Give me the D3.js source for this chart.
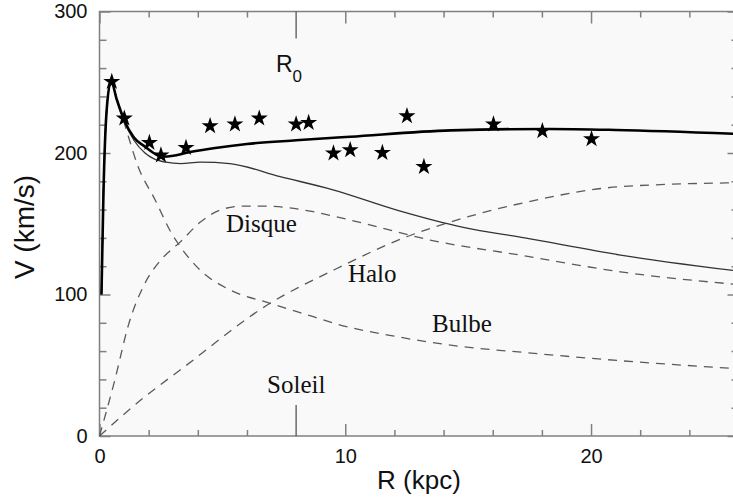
<!DOCTYPE html>
<html>
<head>
<meta charset="utf-8">
<script src="https://d3js.org/d3.v7.min.js"></script>
<style>
  body { margin: 0; background: #fff; }
  svg text { font-family: "Liberation Sans", Arial, sans-serif; fill: #111; }
  .serif { font-family: "Liberation Serif", "Times New Roman", serif !important; }
</style>
</head>
<body>
<div id="chart"></div>
<script>
// values: R in kpc, V in km/s
const totalR  = [0.08, 0.16, 0.29, 0.47, 0.7, 1.01, 1.4, 1.85, 2.2, 2.53, 3.0, 3.5, 4.63, 6.0, 8.0, 10.2, 14.3, 18.3, 21.0, 26];
const totalV  = [100, 171, 230, 251, 238, 223, 211, 204.5, 200, 197.4, 198, 200, 203.3, 206.4, 209, 211.5, 216, 217, 216.3, 213.5];

const thinR   = [0.08, 0.16, 0.29, 0.47, 0.7, 1.01, 1.4, 1.85, 2.2, 2.7, 3.3, 4.1, 5.3, 7.35, 9.5, 12.1, 14.8, 17.3, 21.2, 26];
const thinV   = [100, 171, 230, 251, 238, 222, 209, 200, 196, 193.5, 192.5, 193.5, 192.5, 183.3, 174, 159.7, 147.5, 140, 127.9, 116.5];

const bulgeR  = [0.08, 0.16, 0.29, 0.47, 0.7, 1.01, 1.58, 2.26, 2.94, 3.28, 4.09, 5.31, 6.94, 8.7, 9.6, 12.1, 14.8, 17.3, 21.2, 26];
const bulgeV  = [100, 171, 230, 251, 238, 221, 190, 167, 143, 134, 117.3, 103.2, 93.8, 84.3, 79.4, 70.2, 63.1, 59, 53.2, 47.5];

const diskR   = [0, 0.63, 1.17, 1.85, 2.53, 3.28, 4.09, 5.04, 5.9, 6.67, 8.7, 9.5, 10.74, 13.45, 17.3, 21.2, 26];
const diskV   = [0, 40, 78, 108, 125, 137, 151, 160.5, 162.5, 162.5, 158.5, 155.5, 150.3, 138.5, 127.3, 116, 107];

const haloR   = [0, 1.85, 3.28, 6.94, 9.5, 12.5, 14.4, 17.3, 21.2, 26];
const haloV   = [0, 27.8, 46.6, 93.8, 117, 140.8, 151.9, 165, 176.2, 179];

const starR   = [0.5, 1.01, 2.03, 2.5, 3.52, 4.5, 5.51, 6.5, 8.0, 8.51, 9.52, 10.2, 11.51, 12.51, 13.2, 16.03, 18.02, 20.02];
const starV   = [250.4, 224.5, 207.3, 198.4, 203.7, 219.1, 220.3, 224.5, 220.3, 221.4, 199.8, 202.1, 200.2, 226.1, 190.3, 220.3, 215.5, 209.9];

const xMajor  = [0, 10, 20];
const xMinor  = [2, 4, 6, 12, 14, 16, 18, 22, 24];
const yMajor  = [0, 100, 200, 300];
const yMinor  = [20, 40, 60, 80, 120, 140, 160, 180, 220, 240, 260, 280];
const sunR    = 8;

const W = 733, H = 501;
const pLeft = 99.5, pRight = 738.5, pTop = 11.5, pBottom = 436;

const svg = d3.select("#chart").append("svg")
  .attr("width", W).attr("height", H);

const x = d3.scaleLinear().domain([0, 26]).range([pLeft, pRight]);
const y = d3.scaleLinear().domain([0, 300]).range([pBottom, pTop]);

// plot frame
svg.append("rect")
  .attr("x", pLeft).attr("y", pTop)
  .attr("width", pRight - pLeft).attr("height", pBottom - pTop)
  .style("fill", "#f9f9f9")
  .style("stroke", "#808080")
  .style("stroke-width", 1.5);

const axisColor = "#808080";
function ticks(g) {
  g.select(".domain").remove();
  g.selectAll(".tick line").style("stroke", axisColor).style("stroke-width", 1.5);
  g.selectAll(".tick text").style("font-size", "20px").style("fill", "#111");
}

// bottom axis
svg.append("g").attr("transform", `translate(0,${pBottom})`)
  .call(d3.axisBottom(x).tickValues(xMajor).tickSize(-12).tickPadding(13).tickFormat(d3.format("d")))
  .call(ticks);
svg.append("g").attr("transform", `translate(0,${pBottom})`)
  .call(d3.axisBottom(x).tickValues(xMinor).tickSize(-6).tickFormat(""))
  .call(ticks);
// top axis
svg.append("g").attr("transform", `translate(0,${pTop})`)
  .call(d3.axisTop(x).tickValues(xMajor).tickSize(-12).tickFormat(""))
  .call(ticks);
svg.append("g").attr("transform", `translate(0,${pTop})`)
  .call(d3.axisTop(x).tickValues(xMinor).tickSize(-6).tickFormat(""))
  .call(ticks);
// left axis
svg.append("g").attr("transform", `translate(${pLeft},0)`)
  .call(d3.axisLeft(y).tickValues(yMajor).tickSize(-11).tickPadding(12).tickFormat(d3.format("d")))
  .call(ticks);
svg.append("g").attr("transform", `translate(${pLeft},0)`)
  .call(d3.axisLeft(y).tickValues(yMinor).tickSize(-7).tickFormat(""))
  .call(ticks);
// right axis
svg.append("g").attr("transform", `translate(${pRight},0)`)
  .call(d3.axisRight(y).tickValues(yMajor).tickSize(-11).tickFormat(""))
  .call(ticks);
svg.append("g").attr("transform", `translate(${pRight},0)`)
  .call(d3.axisRight(y).tickValues(yMinor).tickSize(-7).tickFormat(""))
  .call(ticks);

// long ticks marking the Sun (R0)
svg.append("line")
  .attr("x1", x(sunR)).attr("x2", x(sunR))
  .attr("y1", pBottom).attr("y2", pBottom - 31)
  .style("stroke", "#555").style("stroke-width", 1.3);
svg.append("line")
  .attr("x1", x(sunR)).attr("x2", x(sunR))
  .attr("y1", pTop).attr("y2", pTop + 27)
  .style("stroke", "#555").style("stroke-width", 1.3);

// curves
function toPts(rs, vs) { return rs.map((r, i) => [r, vs[i]]); }
const line = d3.line()
  .x(d => x(d[0]))
  .y(d => y(d[1]))
  .curve(d3.curveMonotoneX);

const plot = svg.append("g");

[[haloR, haloV], [diskR, diskV], [bulgeR, bulgeV]].forEach(s => {
  plot.append("path")
    .attr("d", line(toPts(s[0], s[1])))
    .style("fill", "none")
    .style("stroke", "#5a5a5a")
    .style("stroke-width", 1.3)
    .style("stroke-dasharray", "9,7");
});

plot.append("path")
  .attr("d", line(toPts(thinR, thinV)))
  .style("fill", "none")
  .style("stroke", "#333")
  .style("stroke-width", 1.3);

plot.append("path")
  .attr("d", line(toPts(totalR, totalV)))
  .style("fill", "none")
  .style("stroke", "#000")
  .style("stroke-width", 2.6);

// observed points
const star = d3.symbol().type(d3.symbolStar).size(90);
starR.forEach((r, i) => {
  plot.append("path")
    .attr("d", star())
    .attr("transform", `translate(${x(r)},${y(starV[i])})`)
    .style("fill", "#000");
});

// component labels
const labels = [["Disque", 5.15, 144.2], ["Halo", 10.11, 108.8], ["Bulbe", 13.53, 73.5], ["Soleil", 6.82, 30.4]];
labels.forEach(l => {
  svg.append("text")
    .attr("class", "serif")
    .attr("x", x(l[1])).attr("y", y(l[2]))
    .style("font-size", "25px")
    .text(l[0]);
});

// R0 label
const r0 = svg.append("text")
  .attr("x", x(7.18)).attr("y", y(257.2))
  .style("font-size", "23px");
r0.append("tspan").text("R");
r0.append("tspan").attr("dy", 10).style("font-size", "17px").text("0");

// axis titles
svg.append("text")
  .attr("x", 419).attr("y", 489)
  .attr("text-anchor", "middle")
  .style("font-size", "26px")
  .text("R (kpc)");

svg.append("text")
  .attr("transform", "translate(34,227) rotate(-90)")
  .attr("text-anchor", "middle")
  .style("font-size", "28px")
  .text("V (km/s)");
</script>
</body>
</html>
